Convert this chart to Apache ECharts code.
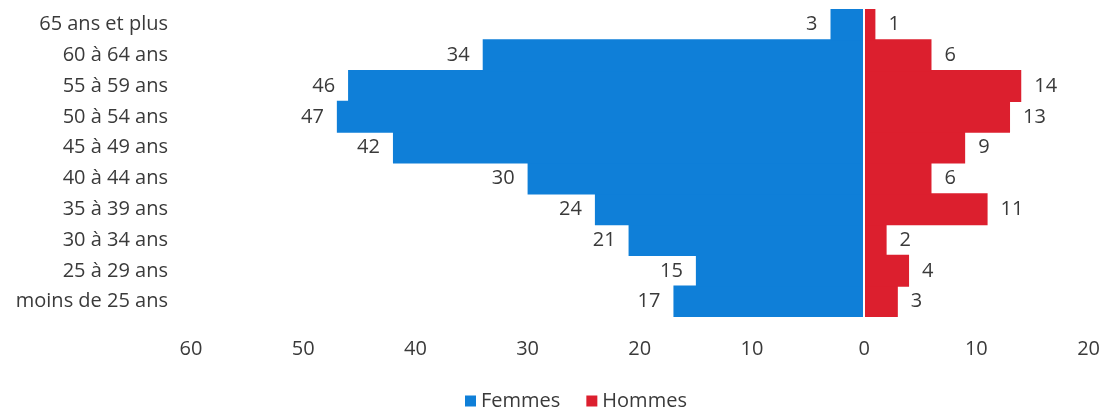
<!DOCTYPE html>
<html>
<head>
<meta charset="utf-8">
<script src="https://cdn.jsdelivr.net/npm/echarts@6/dist/echarts.min.js"></script>
<style>
  html, body { margin: 0; padding: 0; background: #fff; }
  #main { width: 1103px; height: 412px; }
</style>
</head>
<body>
<div id="main"></div>
<script>
    // tranches d'âge, du bas vers le haut
    var ageGroups = ['moins de 25 ans', '25 à 29 ans', '30 à 34 ans', '35 à 39 ans', '40 à 44 ans',
        '45 à 49 ans', '50 à 54 ans', '55 à 59 ans', '60 à 64 ans', '65 ans et plus'];
    var femmes = [17, 15, 21, 24, 30, 42, 47, 46, 34, 3];
    var hommes = [3, 4, 2, 11, 6, 9, 13, 14, 6, 1];
    var seriesNames = ['Femmes', 'Hommes'];

    var textColor = '#3a3a3a';
    var fontFamily = '"Open Sans", sans-serif';
    var fontSize = 20;
    var blue = '#0f7fd8';
    var red = '#dc1f2e';

    var myChart = echarts.init(document.getElementById('main'));
    var option = {
        animation: false,
        textStyle: { fontFamily: fontFamily },
        grid: { left: 191, right: 12, top: 9, bottom: 95 },
        legend: {
            data: seriesNames,
            bottom: -4,
            left: 460,
            itemWidth: 11,
            itemHeight: 11,
            itemGap: 26,
            icon: 'rect',
            textStyle: { fontSize: fontSize, color: textColor, fontFamily: fontFamily }
        },
        xAxis: {
            type: 'value',
            min: -60,
            max: 20,
            interval: 10,
            axisLine: { show: false },
            axisTick: { show: false },
            splitLine: { show: false },
            axisLabel: {
                margin: 22,
                fontSize: fontSize,
                color: textColor,
                formatter: function (v) { return Math.abs(v); }
            }
        },
        yAxis: {
            type: 'category',
            data: ageGroups,
            axisLine: { show: false },
            axisTick: { show: false },
            axisLabel: { margin: 23, fontSize: fontSize, color: textColor }
        },
        series: [
            {
                name: seriesNames[0],
                type: 'bar',
                data: femmes.map(function (v) { return -v; }),
                barWidth: 32,
                barGap: '-100%',
                itemStyle: { color: blue },
                label: {
                    show: true,
                    position: 'left',
                    distance: 13,
                    fontSize: fontSize,
                    color: textColor,
                    formatter: function (p) { return Math.abs(p.value); }
                },
                markLine: {
                    silent: true,
                    symbol: 'none',
                    label: { show: false },
                    lineStyle: { color: '#ffffff', width: 2, type: 'solid' },
                    data: [{ xAxis: 0 }]
                }
            },
            {
                name: seriesNames[1],
                type: 'bar',
                data: hommes,
                barWidth: 32,
                barGap: '-100%',
                itemStyle: { color: red },
                label: {
                    show: true,
                    position: 'right',
                    distance: 13,
                    fontSize: fontSize,
                    color: textColor
                }
            }
        ]
    };
    myChart.setOption(option);
</script>
</body>
</html>
